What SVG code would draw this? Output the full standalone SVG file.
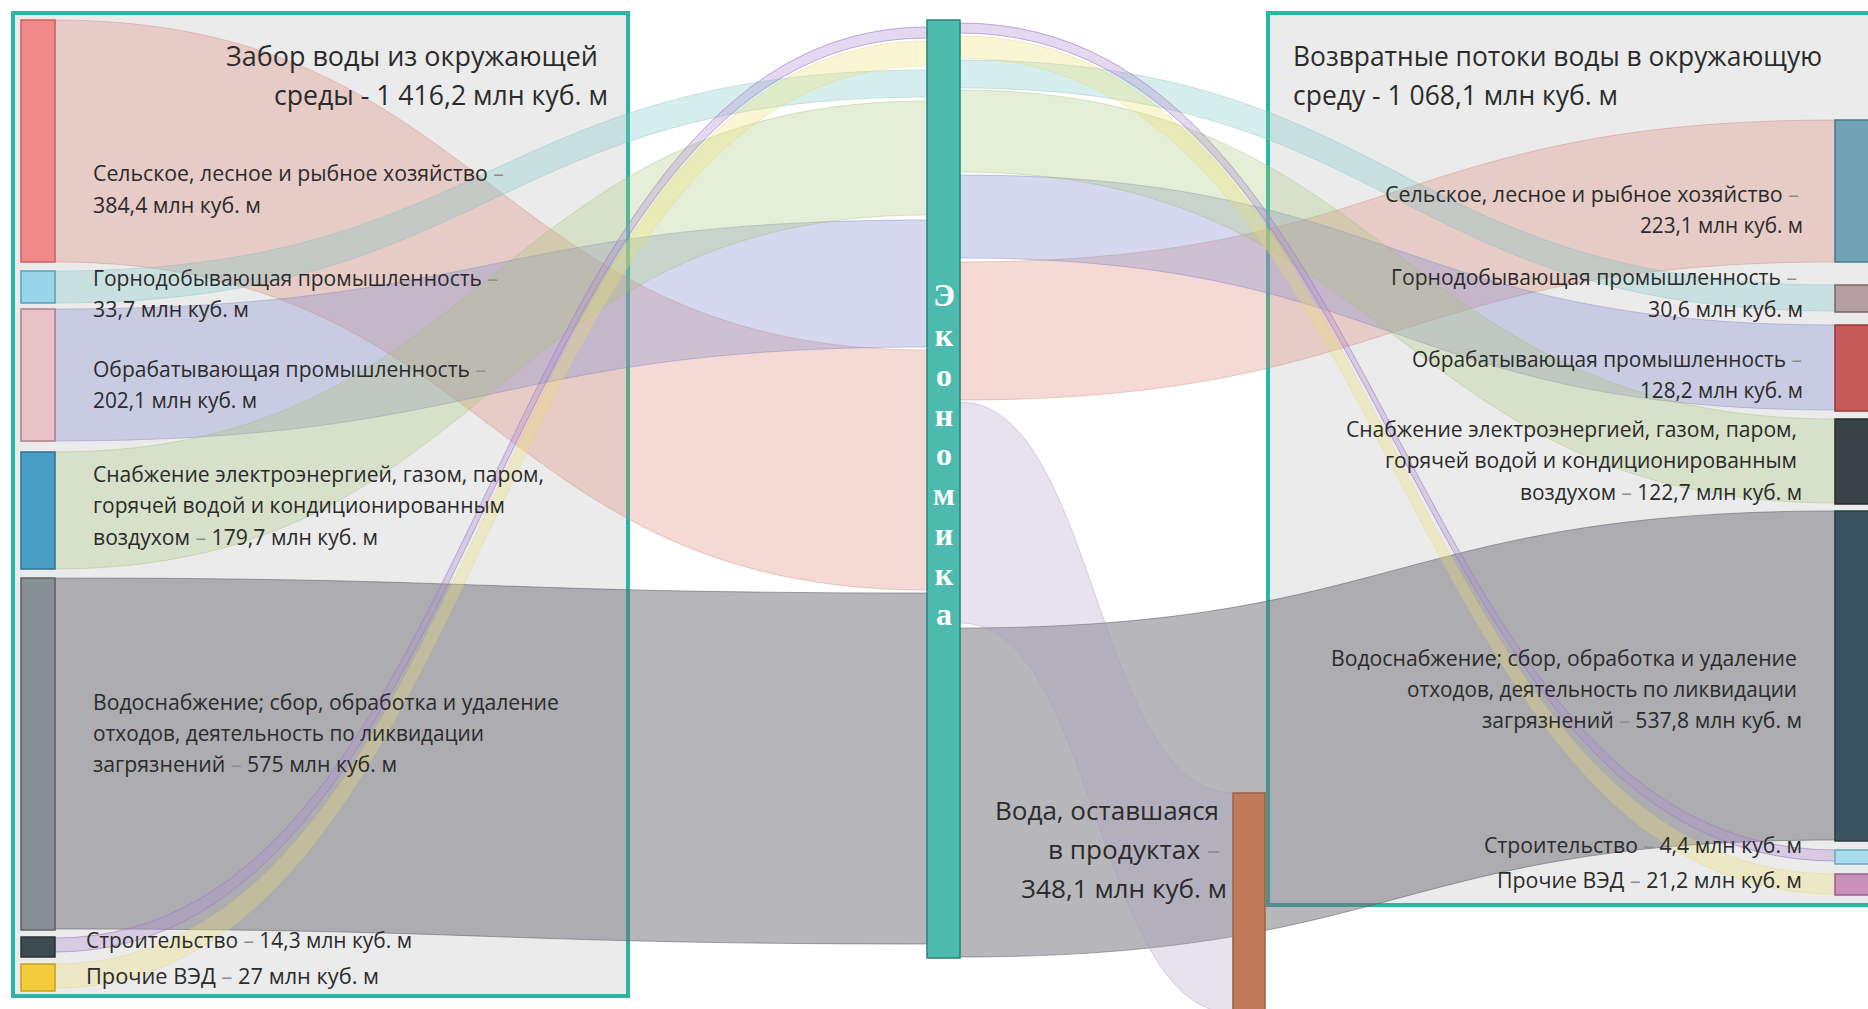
<svg xmlns="http://www.w3.org/2000/svg" width="1868" height="1009" viewBox="0 0 1868 1009">
<style>
.panel{fill:#ebebeb;stroke:#2cb5a3;stroke-width:4}
.lnk{stroke-width:1}
.t{font-family:"Open Sans","Noto Sans",sans-serif;fill:#2b2b2b;font-size:21px}
.ttl{font-family:"Open Sans","Noto Sans",sans-serif;fill:#2b2b2b;font-size:27px}
.big{font-family:"Open Sans","Noto Sans",sans-serif;fill:#2b2b2b;font-size:26px}
.d{fill:#8e8e8e}
.eco{font-family:"Liberation Serif","Times New Roman",serif;font-weight:bold;font-size:32px;fill:#fff}
.salmon{fill:#d9826f;fill-opacity:.3;stroke:#c97a6a;stroke-opacity:.35}
.teal{fill:#7cc8c8;fill-opacity:.3;stroke:#7cb8b8;stroke-opacity:.35}
.lav{fill:#8a8fd0;fill-opacity:.35;stroke:#7a80c0;stroke-opacity:.4}
.green{fill:#a8c878;fill-opacity:.3;stroke:#98b870;stroke-opacity:.35}
.gray{fill:#6e6e78;fill-opacity:.5;stroke:#55555e;stroke-opacity:.5}
.purple{fill:#b090d0;fill-opacity:.35;stroke:#9a7ac0;stroke-opacity:.6}
.yellow{fill:#f0e070;fill-opacity:.3;stroke:#e0d060;stroke-opacity:.35}
.pale{fill:#b0a0c4;fill-opacity:.3;stroke:#a898b8;stroke-opacity:.4}
.node{stroke-width:1.5}
</style>
<g id="panels">
<rect id="panel-left" class="panel" x="13" y="13" width="615" height="983"/>
<rect id="panel-right" class="panel" x="1268" y="13" width="630" height="892"/>
</g>
<g id="connectors">
<path class="lnk gray" d="M55 578 C491 578 491 593 927 593 L927 944 C491 944 491 929 55 929 Z"/>
<path class="lnk salmon" d="M55 20 C491 20 491 350 927 350 L927 590 C491 590 491 262 55 262 Z"/>
<path class="lnk lav" d="M55 309 C491 309 491 220 927 220 L927 347 C491 347 491 441 55 441 Z"/>
<path class="lnk green" d="M55 452 C491 452 491 101 927 101 L927 215 C491 215 491 569 55 569 Z"/>
<path class="lnk teal" d="M55 271 C491 271 491 70 927 70 L927 97 C491 97 491 303 55 303 Z"/>
<path class="lnk yellow" d="M55 964 C491 964 491 41 927 41 L927 66 C491 66 491 988 55 988 Z"/>
<path class="lnk purple" d="M55 938 C491 938 491 27 927 27 L927 38 C491 38 491 952 55 952 Z"/>
<path class="lnk gray" d="M960 628 C1397 628 1397 511 1835 511 L1835 840 C1397 840 1397 957 960 957 Z"/>
<path class="lnk pale" d="M960 402 C1096 402 1096 793 1233 793 L1233 1013 C1096 1013 1096 623 960 623 Z"/>
<path class="lnk salmon" d="M960 262 C1397 262 1397 120 1835 120 L1835 262 C1397 262 1397 400 960 400 Z"/>
<path class="lnk lav" d="M960 175 C1397 175 1397 325 1835 325 L1835 410 C1397 410 1397 258 960 258 Z"/>
<path class="lnk green" d="M960 90 C1397 90 1397 419 1835 419 L1835 503 C1397 503 1397 172 960 172 Z"/>
<path class="lnk teal" d="M960 60 C1397 60 1397 285 1835 285 L1835 311 C1397 311 1397 88 960 88 Z"/>
<path class="lnk yellow" d="M960 36 C1397 36 1397 874 1835 874 L1835 894 C1397 894 1397 58 960 58 Z"/>
<path class="lnk purple" d="M960 23 C1397 23 1397 850 1835 850 L1835 861 C1397 861 1397 33 960 33 Z"/>
</g>
<g id="node-src-agri"><rect class="node" x="21" y="20" width="34" height="242" fill="#f08a8a" stroke="#c86262"/>
<text class="t" x="93" y="181" textLength="411" lengthAdjust="spacingAndGlyphs">Сельское, лесное и рыбное хозяйство <tspan class="d">–</tspan></text>
<text class="t" x="93" y="213" textLength="168" lengthAdjust="spacingAndGlyphs">384,4 млн куб. м</text></g>
<g id="node-src-mining"><rect class="node" x="21" y="271" width="34" height="32" fill="#98d4ea" stroke="#5aa0b8"/>
<text class="t" x="93" y="286" textLength="405" lengthAdjust="spacingAndGlyphs">Горнодобывающая промышленность <tspan class="d">–</tspan></text>
<text class="t" x="93" y="317" textLength="156" lengthAdjust="spacingAndGlyphs">33,7 млн куб. м</text></g>
<g id="node-src-manuf"><rect class="node" x="21" y="309" width="34" height="132" fill="#e8c2c6" stroke="#b08088"/>
<text class="t" x="93" y="377" textLength="393" lengthAdjust="spacingAndGlyphs">Обрабатывающая промышленность <tspan class="d">–</tspan></text>
<text class="t" x="93" y="408" textLength="164" lengthAdjust="spacingAndGlyphs">202,1 млн куб. м</text></g>
<g id="node-src-energy"><rect class="node" x="21" y="452" width="34" height="117" fill="#4a9ec6" stroke="#2e7294"/>
<text class="t" x="93" y="482" textLength="451" lengthAdjust="spacingAndGlyphs">Снабжение электроэнергией, газом, паром,</text>
<text class="t" x="93" y="513" textLength="412" lengthAdjust="spacingAndGlyphs">горячей водой и кондиционированным</text>
<text class="t" x="93" y="545" textLength="285" lengthAdjust="spacingAndGlyphs">воздухом <tspan class="d">–</tspan> 179,7 млн куб. м</text></g>
<g id="node-src-water"><rect class="node" x="21" y="578" width="34" height="352" fill="#868f94" stroke="#5b6266"/>
<text class="t" x="93" y="710" textLength="466" lengthAdjust="spacingAndGlyphs">Водоснабжение; сбор, обработка и удаление</text>
<text class="t" x="93" y="741" textLength="391" lengthAdjust="spacingAndGlyphs">отходов, деятельность по ликвидации</text>
<text class="t" x="93" y="772" textLength="304" lengthAdjust="spacingAndGlyphs">загрязнений <tspan class="d">–</tspan> 575 млн куб. м</text></g>
<g id="node-src-constr"><rect class="node" x="21" y="937" width="34" height="20" fill="#3d4a50" stroke="#2a3338"/>
<text class="t" x="86" y="948" textLength="326" lengthAdjust="spacingAndGlyphs">Строительство <tspan class="d">–</tspan> 14,3 млн куб. м</text></g>
<g id="node-src-other"><rect class="node" x="21" y="964" width="34" height="27" fill="#f2cc3a" stroke="#c7a020"/>
<text class="t" x="86" y="984" textLength="293" lengthAdjust="spacingAndGlyphs">Прочие ВЭД <tspan class="d">–</tspan> 27 млн куб. м</text></g>
<g id="title-left">
<text class="ttl" x="598" y="66" text-anchor="end" textLength="372" lengthAdjust="spacingAndGlyphs">Забор воды из окружающей</text>
<text class="ttl" x="608" y="105" text-anchor="end" textLength="334" lengthAdjust="spacingAndGlyphs">среды - 1 416,2 млн куб. м</text></g>
<g id="node-economy"><rect class="node" x="927" y="20" width="33" height="938" fill="#4dbab0" stroke="#2a8278"/>
<text class="eco" text-anchor="middle"><tspan x="944" y="306">Э</tspan><tspan x="944" y="346">к</tspan><tspan x="944" y="386">о</tspan><tspan x="944" y="426">н</tspan><tspan x="944" y="465">о</tspan><tspan x="944" y="505">м</tspan><tspan x="944" y="545">и</tspan><tspan x="944" y="585">к</tspan><tspan x="944" y="625">а</tspan></text></g>
<g id="node-products"><rect class="node" x="1233" y="793" width="32" height="222" fill="#c27b5a" stroke="#a0603f"/>
<text class="big" x="1219" y="820" text-anchor="end" textLength="224" lengthAdjust="spacingAndGlyphs">Вода, оставшаяся</text>
<text class="big" x="1220" y="859" text-anchor="end" textLength="172" lengthAdjust="spacingAndGlyphs">в продуктах <tspan class="d">–</tspan></text>
<text class="big" x="1227" y="898" text-anchor="end" textLength="206" lengthAdjust="spacingAndGlyphs">348,1 млн куб. м</text></g>
<g id="title-right">
<text class="ttl" x="1293" y="66" textLength="529" lengthAdjust="spacingAndGlyphs">Возвратные потоки воды в окружающую</text>
<text class="ttl" x="1293" y="105" textLength="325" lengthAdjust="spacingAndGlyphs">среду - 1 068,1 млн куб. м</text></g>
<g id="node-dst-agri"><rect class="node" x="1835" y="120" width="35" height="142" fill="#6fa2b4" stroke="#4a7a8a"/>
<text class="t" x="1799" y="202" text-anchor="end" textLength="414" lengthAdjust="spacingAndGlyphs">Сельское, лесное и рыбное хозяйство <tspan class="d">–</tspan></text>
<text class="t" x="1803" y="233" text-anchor="end" textLength="163" lengthAdjust="spacingAndGlyphs">223,1 млн куб. м</text></g>
<g id="node-dst-mining"><rect class="node" x="1835" y="285" width="35" height="27" fill="#b49ea2" stroke="#7a6468"/>
<text class="t" x="1797" y="285" text-anchor="end" textLength="406" lengthAdjust="spacingAndGlyphs">Горнодобывающая промышленность <tspan class="d">–</tspan></text>
<text class="t" x="1803" y="317" text-anchor="end" textLength="155" lengthAdjust="spacingAndGlyphs">30,6 млн куб. м</text></g>
<g id="node-dst-manuf"><rect class="node" x="1835" y="325" width="35" height="86" fill="#c85a58" stroke="#9a3a38"/>
<text class="t" x="1802" y="367" text-anchor="end" textLength="390" lengthAdjust="spacingAndGlyphs">Обрабатывающая промышленность <tspan class="d">–</tspan></text>
<text class="t" x="1803" y="398" text-anchor="end" textLength="163" lengthAdjust="spacingAndGlyphs">128,2 млн куб. м</text></g>
<g id="node-dst-energy"><rect class="node" x="1835" y="419" width="35" height="85" fill="#3a4447" stroke="#262e30"/>
<text class="t" x="1797" y="437" text-anchor="end" textLength="451" lengthAdjust="spacingAndGlyphs">Снабжение электроэнергией, газом, паром,</text>
<text class="t" x="1797" y="468" text-anchor="end" textLength="412" lengthAdjust="spacingAndGlyphs">горячей водой и кондиционированным</text>
<text class="t" x="1802" y="500" text-anchor="end" textLength="282" lengthAdjust="spacingAndGlyphs">воздухом <tspan class="d">–</tspan> 122,7 млн куб. м</text></g>
<g id="node-dst-water"><rect class="node" x="1835" y="511" width="35" height="330" fill="#3b5560" stroke="#283c44"/>
<text class="t" x="1797" y="666" text-anchor="end" textLength="466" lengthAdjust="spacingAndGlyphs">Водоснабжение; сбор, обработка и удаление</text>
<text class="t" x="1797" y="697" text-anchor="end" textLength="390" lengthAdjust="spacingAndGlyphs">отходов, деятельность по ликвидации</text>
<text class="t" x="1802" y="728" text-anchor="end" textLength="320" lengthAdjust="spacingAndGlyphs">загрязнений <tspan class="d">–</tspan> 537,8 млн куб. м</text></g>
<g id="node-dst-constr"><rect class="node" x="1835" y="850" width="35" height="14" fill="#a8dcee" stroke="#6aa8be"/>
<text class="t" x="1802" y="853" text-anchor="end" textLength="318" lengthAdjust="spacingAndGlyphs">Строительство <tspan class="d">–</tspan> 4,4 млн куб. м</text></g>
<g id="node-dst-other"><rect class="node" x="1835" y="874" width="35" height="21" fill="#c98fbc" stroke="#9a6090"/>
<text class="t" x="1802" y="888" text-anchor="end" textLength="305" lengthAdjust="spacingAndGlyphs">Прочие ВЭД <tspan class="d">–</tspan> 21,2 млн куб. м</text></g>
</svg>
